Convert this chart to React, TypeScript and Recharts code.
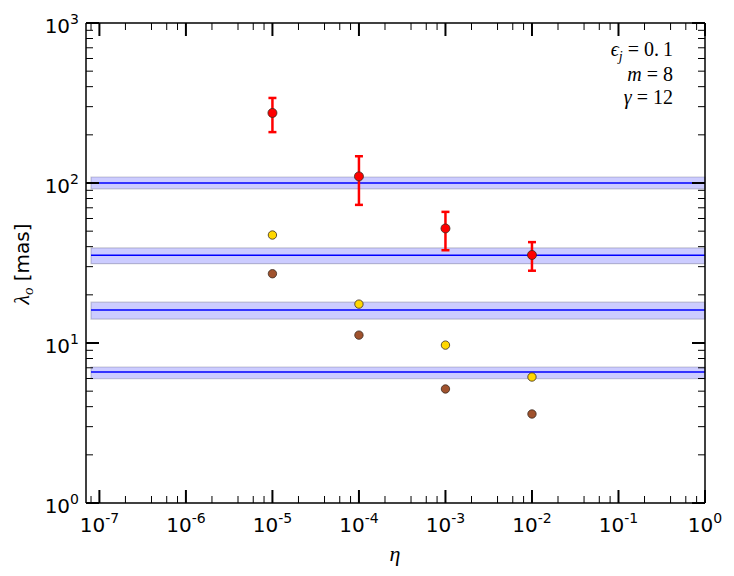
import {
  ComposedChart,
  Scatter,
  ErrorBar,
  XAxis,
  YAxis,
  ReferenceArea,
  ReferenceLine,
} from 'recharts'

// coupling values where the models were evaluated
const etaValues = [1e-5, 1e-4, 1e-3, 1e-2]

// predicted wavelengths [mas]
const redValues = [274, 110, 52, 35.5]
const redErrors = [66, 37, 14, 7.2]
const yellowValues = [47.3, 17.5, 9.7, 6.13]
const brownValues = [27.1, 11.2, 5.16, 3.6]

// observed wavelengths with their uncertainty bands
const bandCenter = [100, 35.3, 16.1, 6.59]
const bandLow = [92, 31.3, 14.1, 5.98]
const bandHigh = [109, 39.3, 18.0, 7.08]
const bandStart = 8e-8
const bandEnd = 1

const xDomain = [7e-8, 1]
const yDomain = [1, 1000]
const xExponents = [-8, -7, -6, -5, -4, -3, -2, -1, 0]
const xMinorSubs = [2, 4, 6, 8]
const yExponents = [0, 1, 2, 3]
const yMinorSubs = [2, 3, 4, 5, 6, 7, 8, 9]

function buildTicks(exps: number[], subs: number[], lo: number, hi: number) {
  const out: number[] = []
  exps.forEach((e) => {
    const base = Math.pow(10, e)
    out.push(base)
    subs.forEach((s) => out.push(s * base))
  })
  return out.filter((v) => v >= lo * 0.9999 && v <= hi * 1.0001).sort((a, b) => a - b)
}

const xTicks = buildTicks(xExponents, xMinorSubs, xDomain[0], xDomain[1])
const yTicks = buildTicks(yExponents, yMinorSubs, yDomain[0], yDomain[1])

function isMajor(v: number) {
  const l = Math.log10(v)
  return Math.abs(l - Math.round(l)) < 1e-9
}

const labelFont = '"DejaVu Sans", sans-serif'
const mathFont = '"Liberation Serif", "DejaVu Serif", serif'

function makeTick(side: 'bottom' | 'top' | 'left' | 'right', labels: boolean) {
  return (props: any) => {
    const { x, y, payload } = props
    const v = payload.value as number
    const major = isMajor(v)
    const len = major ? 13 : 7
    const sw = major ? 2 : 1
    let x2 = x
    let y2 = y
    if (side === 'bottom') y2 = y - len
    if (side === 'top') y2 = y + len
    if (side === 'left') x2 = x + len
    if (side === 'right') x2 = x - len
    const exp = Math.round(Math.log10(v))
    return (
      <g>
        <line x1={x} y1={y} x2={x2} y2={y2} stroke="#000" strokeWidth={sw} />
        {labels && major && side === 'bottom' && (
          <text x={x} y={y + 29} textAnchor="middle" fontFamily={labelFont} fontSize={20} fill="#000">
            <tspan>10</tspan>
            <tspan dy={-9} fontSize={14}>{String(exp)}</tspan>
          </text>
        )}
        {labels && major && side === 'left' && (
          <text x={x - 7} y={y + 10} textAnchor="end" fontFamily={labelFont} fontSize={20} fill="#000">
            <tspan>10</tspan>
            <tspan dy={-9} fontSize={14}>{String(exp)}</tspan>
          </text>
        )}
      </g>
    )
  }
}

const makeDot = (fill: string, r: number) => (p: any) => (
  <circle cx={p.cx} cy={p.cy} r={r} fill={fill} stroke="#3a2a20" strokeWidth={0.8} />
)

const redData = etaValues.map((x, i) => ({ x, y: redValues[i], err: redErrors[i] }))
const yellowData = etaValues.map((x, i) => ({ x, y: yellowValues[i] }))
const brownData = etaValues.map((x, i) => ({ x, y: brownValues[i] }))

const axisLine = { stroke: '#000', strokeWidth: 1.5 }

export default function App() {
  return (
    <div style={{ position: 'absolute', left: 0, top: 0, width: 734, height: 576, background: '#fff' }}>
      <ComposedChart width={734} height={576} margin={{ top: 0, right: 0, bottom: 0, left: 0 }}>
        <XAxis
          xAxisId="b"
          type="number"
          dataKey="x"
          scale="log"
          domain={xDomain}
          allowDataOverflow
          ticks={xTicks}
          interval={0}
          height={73}
          tickSize={0}
          tickMargin={0}
          tickLine={false}
          axisLine={axisLine}
          tick={makeTick('bottom', true)}
        />
        <XAxis
          xAxisId="t"
          orientation="top"
          type="number"
          dataKey="x"
          scale="log"
          domain={xDomain}
          allowDataOverflow
          ticks={xTicks}
          interval={0}
          height={23}
          tickSize={0}
          tickMargin={0}
          tickLine={false}
          axisLine={axisLine}
          tick={makeTick('top', false)}
        />
        <YAxis
          yAxisId="l"
          type="number"
          dataKey="y"
          scale="log"
          domain={yDomain}
          allowDataOverflow
          ticks={yTicks}
          interval={0}
          width={86}
          tickSize={0}
          tickMargin={0}
          tickLine={false}
          axisLine={axisLine}
          tick={makeTick('left', true)}
        />
        <YAxis
          yAxisId="r"
          orientation="right"
          type="number"
          dataKey="y"
          scale="log"
          domain={yDomain}
          allowDataOverflow
          ticks={yTicks}
          interval={0}
          width={29}
          tickSize={0}
          tickMargin={0}
          tickLine={false}
          axisLine={axisLine}
          tick={makeTick('right', false)}
        />
        {bandCenter.map((c, i) => (
          <ReferenceArea
            key={'band' + i}
            xAxisId="b"
            yAxisId="l"
            x1={bandStart}
            x2={bandEnd}
            y1={bandLow[i]}
            y2={bandHigh[i]}
            fill="#0000ff"
            fillOpacity={0.2}
            stroke="#505070"
            strokeOpacity={0.3}
            strokeWidth={1.2}
          />
        ))}
        {bandCenter.map((c, i) => (
          <ReferenceLine
            key={'line' + i}
            xAxisId="b"
            yAxisId="l"
            segment={[
              { x: bandStart, y: c },
              { x: bandEnd, y: c },
            ]}
            stroke="#0000ff"
            strokeWidth={1.5}
          />
        ))}
        <Scatter
          xAxisId="b"
          yAxisId="l"
          data={yellowData}
          shape={makeDot('#ffd700', 4.2)}
          isAnimationActive={false}
        />
        <Scatter
          xAxisId="b"
          yAxisId="l"
          data={brownData}
          shape={makeDot('#a0522d', 4.2)}
          isAnimationActive={false}
        />
        <Scatter
          xAxisId="b"
          yAxisId="l"
          data={redData}
          shape={makeDot('#ff0000', 4.5)}
          isAnimationActive={false}
        >
          <ErrorBar dataKey="err" direction="y" stroke="#ff0000" strokeWidth={2.5} width={4} />
        </Scatter>
      </ComposedChart>
      <svg width={734} height={576} style={{ position: 'absolute', left: 0, top: 0, pointerEvents: 'none' }}>
        <text x={673} y={56} textAnchor="end" fontFamily={mathFont} fontSize={20} fill="#000">
          <tspan fontStyle="italic">ϵ</tspan>
          <tspan fontStyle="italic" fontSize={14} dy={5}>j</tspan>
          <tspan dy={-5}> = 0.</tspan>
          <tspan dx={4}>1</tspan>
        </text>
        <text x={673} y={81} textAnchor="end" fontFamily={mathFont} fontSize={20} fill="#000">
          <tspan fontStyle="italic">m</tspan>
          <tspan> = 8</tspan>
        </text>
        <text x={673} y={104} textAnchor="end" fontFamily={mathFont} fontSize={20} fill="#000">
          <tspan fontStyle="italic">γ</tspan>
          <tspan> = 12</tspan>
        </text>
        <text x={395} y={561} textAnchor="middle" fontFamily={mathFont} fontStyle="italic" fontSize={22} fill="#000">
          η
        </text>
        <text
          transform="translate(29,264) rotate(-90)"
          textAnchor="middle"
          fontFamily={labelFont}
          fontSize={20}
          fill="#000"
        >
          <tspan fontFamily={mathFont} fontStyle="italic" fontSize={22}>λ</tspan>
          <tspan fontFamily={mathFont} fontStyle="italic" fontSize={15} dy={4}>o</tspan>
          <tspan dy={-4}> [mas]</tspan>
        </text>
      </svg>
    </div>
  )
}
